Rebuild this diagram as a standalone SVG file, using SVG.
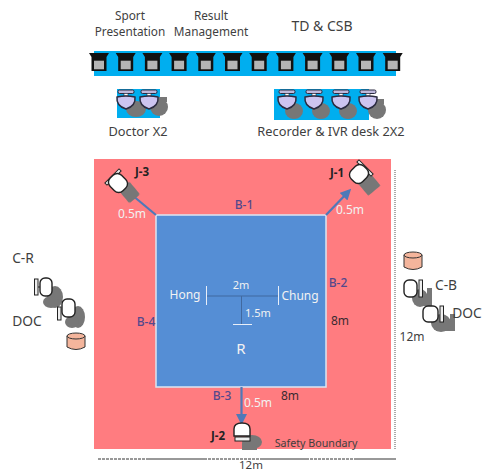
<svg xmlns="http://www.w3.org/2000/svg" width="483" height="473" viewBox="0 0 483 473">
<style>
text{font-family:"Noto Sans","Open Sans",sans-serif;font-size:12px;fill:#3f3f3f;text-anchor:middle}
.t{font-size:11.800px}
.w{fill:#f2f2f2}
.b{fill:#54488c;font-size:12px;font-weight:500}
.j{fill:#222;font-size:11.500px;font-weight:700}
.d{fill:#3a2a30}
.l{font-size:13.800px}
.m{font-size:12.800px}
.cy{fill:#f4b59c;stroke:#333;stroke-width:1}
.head{fill:#fff;stroke:#222;stroke-width:1.400}
.lav{fill:#ccc4f0;stroke:#2b2b40;stroke-width:1.500}
.bar{fill:#eee;stroke:#222;stroke-width:1}
.gray{fill:#777;filter:url(#soft)}
.arrow{stroke:#4f79b8;stroke-width:2.200;fill:none;marker-end:url(#ah)}
</style>
<defs>
<filter id="soft" x="-30%" y="-30%" width="160%" height="160%"><feGaussianBlur stdDeviation="0.500"/></filter>
<marker id="ah" markerWidth="5" markerHeight="5" refX="3.600" refY="2.500" orient="auto"><path d="M0 0L5 2.500L0 5z" fill="#4f79b8"/></marker>
<g id="mon"><path d="M-10 0H10L7.500 4V18H-7.500V4z" fill="#111"/><rect x="-5" y="7.700" width="10" height="8.600" fill="#b5b5b5"/></g>
<g id="seat"><rect x="-8" y="-11" width="16" height="3.500" rx="1.500" fill="#bdb8dc" stroke="#2b2b40"/><rect x="-2" y="-7.500" width="4" height="2.500" fill="#fff" stroke="#2b2b40" stroke-width=".6"/><path class="lav" d="M-9-4Q0-6 9-4Q10 5 0 8Q-10 5-9-4z"/></g>
<g id="side"><rect class="head" x="-8" y="-9" width="16" height="18" rx="6"/></g>
</defs>
<rect width="483" height="473" fill="#fff"/>
<g id="labels-top">
<text class="t" x="130" y="20">Sport<tspan x="130" dy="16.200">Presentation</tspan></text>
<text class="t" x="211" y="20">Result<tspan x="211" dy="16.200">Management</tspan></text>
<text x="322" y="31" style="font-size:14px">TD &amp; CSB</text>
</g>
<g id="desk-row">
<rect x="94" y="51" width="302" height="25" fill="#00aeef"/>
<use href="#mon" x="99" y="53"/><use href="#mon" x="125.700" y="53"/><use href="#mon" x="152.400" y="53"/><use href="#mon" x="179.100" y="53"/><use href="#mon" x="205.800" y="53"/><use href="#mon" x="232.500" y="53"/><use href="#mon" x="259.200" y="53"/><use href="#mon" x="285.900" y="53"/><use href="#mon" x="312.600" y="53"/><use href="#mon" x="339.300" y="53"/><use href="#mon" x="366" y="53"/><use href="#mon" x="392.700" y="53"/>
</g>
<g id="doctor-desk">
<rect x="117" y="89" width="43" height="29" fill="#00aeef"/>
<g class="gray"><ellipse cx="136" cy="109" rx="10" ry="8"/><ellipse cx="159" cy="107" rx="9" ry="9"/><rect x="158" y="97" width="9" height="5"/></g>
<use href="#seat" x="126" y="101"/><use href="#seat" x="149" y="101"/>
<text class="m" x="138" y="136">Doctor X2</text>
</g>
<g id="recorder-desk">
<rect x="274" y="89" width="95" height="31" fill="#00aeef"/>
<g class="gray"><ellipse cx="294" cy="111" rx="9" ry="8"/><ellipse cx="321" cy="111" rx="9" ry="8"/><ellipse cx="348" cy="111" rx="9" ry="8"/><ellipse cx="377" cy="110" rx="9" ry="9"/><rect x="376" y="99" width="8" height="5"/></g>
<use href="#seat" x="287" y="101"/><use href="#seat" x="314" y="101"/><use href="#seat" x="341" y="101"/><use href="#seat" x="368" y="101"/>
<text class="m" x="331" y="136">Recorder &amp; IVR desk 2X2</text>
</g>
<g id="safety-zone">
<rect x="94" y="159" width="297" height="290" fill="#ff7c80"/>
<text x="316" y="447" style="font-size:10.700px">Safety Boundary</text>
</g>
<g id="mat">
<rect x="156" y="215" width="170" height="172" fill="#558ed5" stroke="#dce6f2" stroke-width="1.500"/>
<text class="b" x="244" y="209">B-1</text><text class="b" x="338" y="287">B-2</text><text class="b" x="222" y="400">B-3</text><text class="b" x="146" y="326">B-4</text>
<text class="w" x="185" y="299">Hong</text><text class="w" x="300" y="300">Chung</text><text class="w" x="241" y="289" style="font-size:11px">2m</text><text class="w" x="258" y="317" style="font-size:11px">1.5m</text><text class="w" x="241" y="354" style="font-size:15px">R</text>
<path d="M207 296H278M241.500 296V324" stroke="#41699f" fill="none"/>
<path d="M206.500 286V305M278.500 286V305M233 324.500H252" stroke="#e8eef8" fill="none"/>
</g>
<g id="connectors">
<path class="arrow" d="M156 215L126 190"/>
<path class="arrow" d="M326 215L349 191"/>
<path class="arrow" d="M241.500 387V422"/>
</g>
<g id="J-1">
<rect x="-8" y="-9" width="16" height="19" rx="1" class="gray" transform="translate(368 183) rotate(-40)"/>
<rect class="bar" x="-10" y="-1.500" width="20" height="3" transform="translate(365 168) rotate(45)"/>
<use href="#side" transform="translate(359 174) rotate(45)"/>
<text class="j" x="337" y="177">J-1</text>
<text class="w" x="350" y="214">0.5m</text>
</g>
<g id="J-3">
<rect x="-7" y="-8" width="14" height="17" rx="2" class="gray" transform="translate(129 192) rotate(-40)"/>
<rect class="bar" x="-10" y="-1.500" width="20" height="3" transform="translate(113 177) rotate(-45)"/>
<use href="#side" transform="translate(118 183) rotate(-45)"/>
<text class="j" x="142" y="176">J-3</text>
<text class="w" x="132" y="218">0.5m</text>
</g>
<g id="J-2">
<g class="gray"><ellipse cx="252" cy="442" rx="10" ry="7"/><rect x="242" y="443" width="15" height="7"/></g>
<path class="head" d="M234 436V429Q234 423 242 423Q250 423 250 429V436z"/>
<rect class="bar" x="235" y="437" width="15" height="4"/>
<text class="j" x="218" y="440">J-2</text>
<text class="w" x="258" y="407">0.5m</text>
</g>
<g id="C-R">
<g class="gray"><ellipse cx="55" cy="297" rx="8" ry="11"/><ellipse cx="51" cy="302" rx="8" ry="6"/></g>
<rect class="bar" x="34.500" y="279" width="3.500" height="16"/><path d="M38 287H40" stroke="#222"/>
<rect class="head" x="40" y="278" width="12" height="18" rx="5"/>
<text class="l" x="23" y="263">C-R</text>
</g>
<g id="DOC-left">
<g class="gray"><ellipse cx="78" cy="317" rx="7" ry="11"/><ellipse cx="72" cy="322" rx="7" ry="6"/></g>
<rect class="bar" x="57.500" y="307" width="3.500" height="13"/>
<rect class="head" x="62" y="299" width="13" height="18" rx="5"/>
<text class="l" x="27" y="326">DOC</text>
</g>
<g id="cyl-left">
<path class="cy" d="M67 336V347Q76 352 85 347V336z"/><ellipse class="cy" cx="76" cy="336" rx="9" ry="3"/>
</g>
<g id="cyl-right">
<path class="cy" d="M404 255V267Q413 272 422 267V255z"/><ellipse class="cy" cx="413" cy="255" rx="9" ry="3"/>
</g>
<g id="C-B">
<g class="gray"><path d="M414 296H427V288H432V306H420z"/><ellipse cx="420" cy="298" rx="8" ry="9"/></g>
<rect class="head" x="404" y="280" width="13" height="17" rx="5"/>
<rect class="bar" x="419" y="280" width="3.500" height="17"/>
<text class="l" x="446" y="290">C-B</text>
</g>
<g id="DOC-right">
<g class="gray"><path d="M432 320H450V314H455V331H436z"/><ellipse cx="441" cy="323" rx="10" ry="9"/></g>
<rect class="head" x="423" y="306" width="15" height="16" rx="5"/>
<rect class="bar" x="440" y="306" width="3.500" height="16"/>
<text class="l" x="467" y="318">DOC</text>
</g>
<g id="dimensions">
<path d="M395 170V450" stroke="#555" stroke-dasharray="1 1" fill="none"/>
<path d="M98 459H146" stroke="#333" stroke-dasharray="3 1" fill="none"/><path d="M146 459H204" stroke="#333" fill="none"/><path d="M204 459H262" stroke="#333" stroke-dasharray="3 1" fill="none"/><path d="M262 459H306" stroke="#333" fill="none"/><path d="M306 459H355" stroke="#333" stroke-dasharray="3 1" fill="none"/><path d="M355 459H396" stroke="#333" fill="none"/>
<text x="251" y="469" style="font-size:11.500px">12m</text>
<text x="412" y="341">12m</text>
<text class="d" x="340" y="325">8m</text>
<text class="d" x="290" y="400">8m</text>
</g>
</svg>
